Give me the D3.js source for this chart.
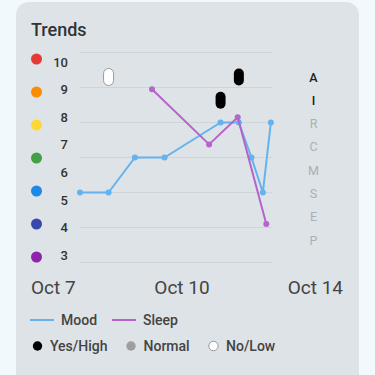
<!DOCTYPE html>
<html>
<head>
<meta charset="utf-8">
<script src="https://cdn.jsdelivr.net/npm/d3@7"></script>
<style>
  html, body { margin: 0; padding: 0; background: #f2f9fc; }
  svg { display: block; font-family: Roboto, "Noto Sans", sans-serif; }
</style>
</head>
<body>
<svg id="chart" width="375" height="375"></svg>
<script>
// Mood entries (0-12 scale) and sleep entries
const moodDates = ["2024-10-07T00:00", "2024-10-08T01:00", "2024-10-09T00:00", "2024-10-10T02:00",
  "2024-10-12T03:00", "2024-10-12T19:00", "2024-10-13T06:00", "2024-10-13T16:00", "2024-10-13T23:00"];
const moodValues = [4, 4, 6, 6, 8, 8, 6, 4, 8];

const sleepDates = ["2024-10-09T15:00", "2024-10-11T17:00", "2024-10-12T18:00", "2024-10-13T19:00"];
const sleepValues = [9.9, 6.75, 8.3, 2.2];

// Activity rows and marks
const activityRows = ["A", "I", "R", "C", "M", "S", "E", "P"];
const activeRows = ["A", "I"];
const activityDates = ["2024-10-08T01:00", "2024-10-12T03:00", "2024-10-12T19:00"];
const activityRowOf = ["A", "I", "A"];
const activityLevels = ["low", "high", "high"];

// Left scale
const scaleLabels = ["10", "9", "8", "7", "6", "5", "4", "3"];
const scaleColors = ["#e53935", "#fb8c00", "#fdd835", "#43a047", "#1e88e5", "#3949ab", "#8e24aa"];

const xLabels = ["Oct 7", "Oct 10", "Oct 14"];
const gridTicks = [0, 2, 4, 6, 8, 10, 12];

const parse = d3.timeParse("%Y-%m-%dT%H:%M");
const svg = d3.select("#chart");

// card
svg.append("rect")
  .attr("x", 16).attr("y", 2)
  .attr("width", 343).attr("height", 400)
  .attr("rx", 13)
  .attr("fill", "#dde3e6");

svg.append("text")
  .attr("x", 31).attr("y", 36)
  .attr("font-size", 18).attr("font-weight", 500)
  .attr("fill", "#333")
  .text("Trends");

const x = d3.scaleTime()
  .domain([parse("2024-10-07T00:00"), parse("2024-10-14T00:00")])
  .range([80, 272]);
const y = d3.scaleLinear().domain([0, 12]).range([262.5, 52.5]);

// gridlines
svg.append("g").selectAll("line")
  .data(gridTicks)
  .enter().append("line")
  .attr("x1", 80).attr("x2", 272)
  .attr("y1", d => y(d)).attr("y2", d => y(d))
  .attr("stroke", "#cdd5d9").attr("stroke-width", 1);

// left colour scale
const dotY = d3.scalePoint().domain(scaleColors).range([59, 257]);
svg.append("g").selectAll("circle")
  .data(scaleColors)
  .enter().append("circle")
  .attr("cx", 36.5).attr("cy", d => dotY(d))
  .attr("r", 5.5)
  .attr("fill", d => d);

const labelY = d3.scalePoint().domain(scaleLabels).range([62, 255]);
svg.append("g").selectAll("text")
  .data(scaleLabels)
  .enter().append("text")
  .attr("x", 68).attr("y", d => labelY(d))
  .attr("dy", "0.36em")
  .attr("text-anchor", "end")
  .attr("font-size", 13).attr("font-weight", 500)
  .attr("fill", "#333")
  .text(d => d);

// activity row labels
const rowY = d3.scalePoint().domain(activityRows).range([77, 240]);
svg.append("g").selectAll("text")
  .data(activityRows)
  .enter().append("text")
  .attr("x", 313.5).attr("y", d => rowY(d))
  .attr("dy", "0.36em")
  .attr("text-anchor", "middle")
  .attr("font-size", 12.5)
  .attr("font-weight", d => activeRows.includes(d) ? 500 : 400)
  .attr("fill", d => activeRows.includes(d) ? "#222" : "#a9b1b5")
  .text(d => d);

// lines
const line = d3.line().x(d => x(d.date)).y(d => y(d.value));
const mood = moodDates.map((d, i) => ({ date: parse(d), value: moodValues[i] }));
const sleep = sleepDates.map((d, i) => ({ date: parse(d), value: sleepValues[i] }));

function drawSeries(data, color) {
  svg.append("path")
    .datum(data)
    .attr("d", line)
    .attr("fill", "none")
    .attr("stroke", color)
    .attr("stroke-width", 2)
    .attr("stroke-linejoin", "round");
  svg.append("g").selectAll("circle")
    .data(data)
    .enter().append("circle")
    .attr("cx", d => x(d.date)).attr("cy", d => y(d.value))
    .attr("r", 3)
    .attr("fill", color);
}
drawSeries(mood, "#64b2ee");
drawSeries(sleep, "#b565c9");

// activity pills
const levelFill = { high: "#000", normal: "#9e9e9e", low: "#fff" };
svg.append("g").selectAll("rect")
  .data(activityDates.map((d, i) => ({ date: parse(d), row: activityRowOf[i], level: activityLevels[i] })))
  .enter().append("rect")
  .attr("x", d => x(d.date) - 5).attr("y", d => rowY(d.row) - 8.5)
  .attr("width", 10).attr("height", 17)
  .attr("rx", 5)
  .attr("fill", d => levelFill[d.level])
  .attr("stroke", d => d.level === "low" ? "#999" : "none")
  .attr("stroke-width", 1);

// x labels
const anchors = ["start", "middle", "end"];
const labelX = [31, 182, 343];
svg.append("g").selectAll("text")
  .data(xLabels)
  .enter().append("text")
  .attr("x", (d, i) => labelX[i]).attr("y", 294)
  .attr("text-anchor", (d, i) => anchors[i])
  .attr("font-size", 19)
  .attr("fill", "#444")
  .text(d => d);

// legend
const legend = svg.append("g").attr("font-size", 14).attr("font-weight", 500).attr("fill", "#444");
[["Mood", "#64b2ee", 30], ["Sleep", "#b565c9", 112]].forEach(([name, color, lx]) => {
  legend.append("line")
    .attr("x1", lx).attr("x2", lx + 24)
    .attr("y1", 320).attr("y2", 320)
    .attr("stroke", color).attr("stroke-width", 2);
  legend.append("text").attr("x", lx + 31).attr("y", 325).text(name);
});
[["Yes/High", "high", 37.5], ["Normal", "normal", 131], ["No/Low", "low", 213.5]].forEach(([name, lvl, lx]) => {
  legend.append("circle")
    .attr("cx", lx).attr("cy", 346).attr("r", 4.7)
    .attr("fill", levelFill[lvl])
    .attr("stroke", lvl === "low" ? "#999" : "none");
  legend.append("text").attr("x", lx + 12.5).attr("y", 351).text(name);
});
</script>
</body>
</html>
